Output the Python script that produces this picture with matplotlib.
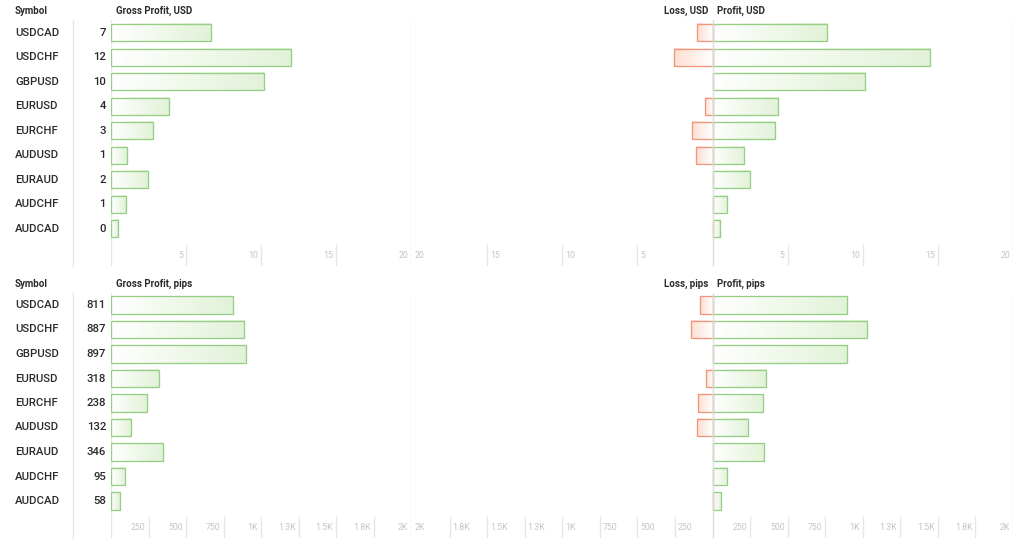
import numpy as np
import matplotlib
matplotlib.use("Agg")
import matplotlib.pyplot as plt
from matplotlib.colors import LinearSegmentedColormap
from matplotlib.patches import Rectangle
from matplotlib.lines import Line2D
from matplotlib.transforms import blended_transform_factory

plt.rcParams['font.family'] = ['Roboto', 'DejaVu Sans']

symbols = ['USDCAD', 'USDCHF', 'GBPUSD', 'EURUSD', 'EURCHF', 'AUDUSD', 'EURAUD', 'AUDCHF', 'AUDCAD']

gross_usd = [6.65, 12.0, 10.2, 3.85, 2.8, 1.05, 2.45, 0.97, 0.48]
profit_usd = [7.64, 14.49, 10.18, 4.33, 4.18, 2.11, 2.47, 0.97, 0.48]
loss_usd = [1.03, 2.53, 0, 0.53, 1.38, 1.09, 0, 0, 0]

gross_pips = [811, 887, 897, 318, 238, 132, 346, 95, 58]
profit_pips = [897, 1027, 897, 358, 336, 236, 346, 95, 58]
loss_pips = [86, 140, 0, 40, 98, 104, 0, 0, 0]

usd_ticks = [5, 10, 15, 20]
usd_labels = ['5', '10', '15', '20']
pips_ticks = [250, 500, 750, 1000, 1250, 1500, 1750, 2000]
pips_labels = ['250', '500', '750', '1K', '1.3K', '1.5K', '1.8K', '2K']

W, H = 1024, 548
fig = plt.figure(figsize=(W / 100, H / 100), dpi=100)

GREEN_EDGE = '#96ce85'
GREEN_FILL = '#e2f2d8'
RED_EDGE = '#f1967b'
RED_FILL = '#fddfd2'
GRID = '#e6e6e6'
TXT = '#2b2b2b'
TICK = '#c4c4c4'

green_cmap = LinearSegmentedColormap.from_list('g', ['#ffffff', GREEN_FILL])
red_cmap = LinearSegmentedColormap.from_list('r', ['#ffffff', RED_FILL])
grad = np.linspace(0, 1, 128)[None, :]


def px_axes(x0, y0, x1, y1):
    return fig.add_axes([x0 / W, 1 - y1 / H, (x1 - x0) / W, (y1 - y0) / H])


def bar(ax, y, v, cmap, edge, h=0.7):
    if v != 0:
        ax.imshow(grad, cmap=cmap, extent=[0, v, y + h / 2, y - h / 2],
                  aspect='auto', interpolation='bilinear', zorder=2)
    ax.add_patch(Rectangle((min(0, v), y - h / 2), abs(v), h, fill=False,
                           ec=edge, lw=0.95, zorder=3))


def panel(top, bottom, gross, profit, loss, ticks, labels, unit, row0):
    vmax = ticks[-1]
    n = len(symbols)
    step = 24.5
    ylo = (bottom - row0) / step
    yhi = (top - row0) / step

    axl = px_axes(111, top, 411, bottom)
    axr = px_axes(412, top, 1013, bottom)
    for ax in (axl, axr):
        ax.axis('off')
        ax.set_ylim(ylo, yhi)
    axl.set_xlim(0, vmax)
    axr.set_xlim(-vmax, vmax)

    for i in range(n):
        bar(axl, i, gross[i], green_cmap, GREEN_EDGE)
        bar(axr, i, profit[i], green_cmap, GREEN_EDGE)
        bar(axr, i, -loss[i], red_cmap, RED_EDGE)

    # full height lines
    axl.axvline(0, color=GRID, lw=1, zorder=1)
    axl.axvline(vmax, color=GRID, lw=1, zorder=1)
    axr.axvline(0, color='#dcdcdc', lw=1, zorder=4)
    axr.axvline(vmax, color=GRID, lw=1, zorder=1)
    fig.add_artist(Line2D([73 / W, 73 / W], [1 - top / H, 1 - bottom / H],
                          color=GRID, lw=1))

    # short tick lines and labels at the bottom
    g0 = (bottom - 21 - row0) / step
    ly = (bottom - 11 - row0) / step
    off = 3 / 15 * vmax / 20
    for t, lab in zip(ticks, labels):
        if t != vmax:
            axl.plot([t, t], [g0, ylo], color=GRID, lw=1, zorder=1)
            axr.plot([t, t], [g0, ylo], color=GRID, lw=1, zorder=1)
            axr.plot([-t, -t], [g0, ylo], color=GRID, lw=1, zorder=1)
        axl.text(t - off, ly, lab, ha='right', va='center', fontsize=6.3, color=TICK)
        axr.text(t - off, ly, lab, ha='right', va='center', fontsize=6.3, color=TICK)
        axr.text(-t + off, ly, lab, ha='left', va='center', fontsize=6.3, color=TICK)

    # row texts
    tr = blended_transform_factory(fig.transFigure, axl.transData)
    for i, s in enumerate(symbols):
        axl.text(15 / W, i, s, transform=tr, ha='left', va='center',
                 fontsize=8.2, weight='medium', color=TXT)
        if unit == 'USD':
            val = f'{gross[i]:.0f}'
        else:
            val = f'{gross[i]}'
        axl.text(106 / W, i, val, transform=tr, ha='right', va='center',
                 fontsize=8.2, weight='medium', color=TXT)

    # headers
    hy = 1 - (top - 9) / H
    hs = 7
    fig.text(15 / W, hy, 'Symbol', fontsize=hs, weight='bold', color=TXT, va='center')
    fig.text(116 / W, hy, f'Gross Profit, {unit}', fontsize=hs, weight='bold',
             color=TXT, va='center')
    fig.text(708 / W, hy, f'Loss, {unit}', fontsize=hs, weight='bold',
             color=TXT, va='center', ha='right')
    fig.text(717 / W, hy, f'Profit, {unit}', fontsize=hs, weight='bold',
             color=TXT, va='center', ha='left')


panel(20, 266, gross_usd, profit_usd, loss_usd, usd_ticks, usd_labels, 'USD', 32.7)
panel(293, 538, gross_pips, profit_pips, loss_pips, pips_ticks, pips_labels, 'pips', 305)

fig.savefig('out.png', dpi=100, facecolor='white')
